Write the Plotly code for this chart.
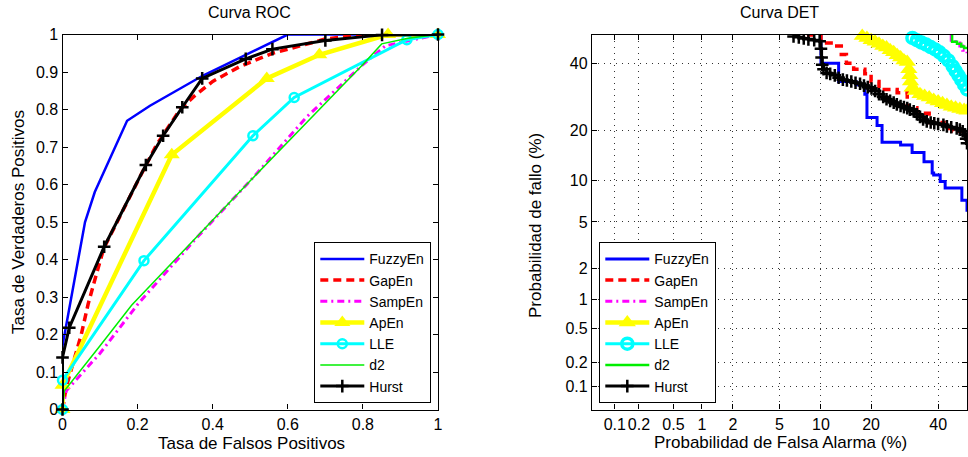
import plotly.graph_objects as go
from statistics import NormalDist

# ---------------- ROC data ----------------
names = ["FuzzyEn", "GapEn", "SampEn", "ApEn", "LLE", "d2", "Hurst"]

roc_fuzzy_fpr = [0, 0, 0.06, 0.086, 0.172, 0.233, 0.373, 0.6, 1]
roc_fuzzy_tpr = [0, 0.17, 0.5, 0.58, 0.77, 0.81, 0.89, 1, 1]
roc_gap_fpr = [0, 0.01, 0.05, 0.068, 0.09, 0.11, 0.206, 0.25, 0.313, 0.35, 0.4, 0.473, 0.56, 0.7, 0.81, 1]
roc_gap_tpr = [0, 0.06, 0.2, 0.28, 0.36, 0.43, 0.62, 0.705, 0.8, 0.835, 0.875, 0.915, 0.95, 0.988, 1, 1]
roc_samp_fpr = [0, 0.01, 0.1, 0.2, 0.35, 0.5, 0.65, 0.8, 0.86, 1]
roc_samp_tpr = [0, 0.05, 0.15, 0.28, 0.45, 0.61, 0.78, 0.92, 0.97, 1]
roc_ap_fpr = [0, 0, 0.291, 0.544, 0.684, 0.867, 1]
roc_ap_tpr = [0, 0.065, 0.679, 0.883, 0.946, 1, 1]
roc_lle_fpr = [0, 0, 0.217, 0.507, 0.617, 0.917, 1]
roc_lle_tpr = [0, 0.078, 0.397, 0.73, 0.832, 0.986, 1]
roc_d2_fpr = [0, 0.005, 0.1, 0.184, 0.5, 0.8, 0.85, 0.92, 1]
roc_d2_tpr = [0, 0.05, 0.17, 0.278, 0.61, 0.92, 0.975, 0.99, 1]
roc_hurst_fpr = [0, 0, 0.018, 0.111, 0.222, 0.268, 0.319, 0.372, 0.488, 0.559, 0.70, 0.851, 1]
roc_hurst_tpr = [0, 0.139, 0.218, 0.434, 0.652, 0.730, 0.806, 0.883, 0.935, 0.961, 0.984, 0.999, 1]

# ---------------- DET data (percent) ----------------
det_fuzzy_pfa = [10, 10, 13, 16.5, 18.5, 19, 21.5, 22.8, 28, 31.5, 35.3, 38, 38.5, 40.7, 42.4, 48.2, 50]
det_fuzzy_pmiss = [49.8, 40, 34, 33, 30, 23.3, 21.2, 17.2, 16.6, 15, 13.2, 11.2, 10.9, 9.85, 8.9, 7.3, 6]
det_gap_pfa = [8, 10, 12, 13.5, 14.5, 16, 18.5, 20, 22, 27, 30, 33, 37, 42, 45, 50]
det_gap_pmiss = [49.8, 47, 46, 43, 40, 38, 36.5, 34, 31.5, 30.5, 26, 24.5, 22, 20.5, 19.8, 19.5]
det_samp_pfa = [44, 44.5, 46, 47.5, 48.5, 50]
det_samp_pmiss = [49.8, 48, 47, 46, 44.5, 43.5]
det_ap_pfa = [17.9, 19, 20, 21, 22, 23, 24, 25, 26, 27, 28, 29, 30, 30.5, 30.8, 31, 31.5, 32.5, 34,
              35.5, 37, 38.5, 40, 41.5, 43, 44.5, 46, 47.5, 49, 50]
det_ap_pmiss = [49.5, 48.8, 48, 47.5, 46.8, 46, 45.5, 44.5, 43.8, 42.8, 42, 41, 40.5, 38, 36, 34, 32, 31, 30,
                29.5, 29, 28.3, 27.8, 27.3, 26.8, 26.3, 26, 25.7, 25.4, 25.2]
det_lle_pfa = [31.6, 33, 34.5, 36, 37.5, 39, 40.5, 42, 43.5, 45, 46, 47, 48, 49, 50]
det_lle_pmiss = [48.8, 48, 47.2, 46.5, 45.6, 44.8, 43.8, 42.5, 41, 39, 37.5, 36, 34.5, 33, 31.5]
det_d2_pfa = [44.5, 44.8, 46.5, 48, 49, 50]
det_d2_pmiss = [49.8, 47.5, 46.8, 45.8, 45.3, 45]
det_hurst_pfa = [6.4, 7.0, 7.6, 8.2, 9.0, 9.8, 10.0, 10.1, 10.2, 10.4, 10.9, 11.5, 12.3, 13.0, 13.8, 14.6,
                 15.5, 16.4, 17.4, 18.3, 19.2, 20.1, 21, 22, 23.1, 24, 25, 26, 26.9, 28, 29, 30, 30.8, 32,
                 33, 34, 35, 36.2, 37.5, 38.7, 40, 41.8, 43, 44.5, 46.4, 47.5, 48.5, 49.3, 49.7, 50]
det_hurst_pmiss = [49.3, 49.0, 48.6, 48.3, 48.0, 47.6, 45, 42, 39.5, 38, 36.8, 36.5, 36, 35.2, 34.6, 34.3,
                   34, 33.6, 33.3, 32.7, 32.2, 31.8, 31, 30, 29.2, 28.5, 28, 27.5, 27, 26.5, 26.2, 25.9, 25.5, 25,
                   24.2, 23.5, 22.8, 22.3, 22, 21.8, 21.6, 21.4, 21, 20.8, 20.5, 20.2, 19.8, 19, 18, 17]

det_ticks = [0.1, 0.2, 0.5, 1, 2, 5, 10, 20, 40]
det_ticklabels = ["0.1", "0.2", "0.5", "1", "2", "5", "10", "20", "40"]
roc_xticks = [0, 0.2, 0.4, 0.6, 0.8, 1]
roc_yticks = [0, 0.1, 0.2, 0.3, 0.4, 0.5, 0.6, 0.7, 0.8, 0.9, 1]

nd = NormalDist()


def probit(vals):
    return [nd.inv_cdf(min(v, 49.999) / 100.0) for v in vals]


W, H = 968, 457


def px(X):
    return X / W


def py(Y):
    return 1 - Y / H


FONT = "Liberation Sans, Arial, sans-serif"

styles = {
    "FuzzyEn": dict(line=dict(color="#0000FF", width=2.5), mode="lines"),
    "GapEn": dict(line=dict(color="#FF0000", width=3.5, dash="8px,5px"), mode="lines"),
    "SampEn": dict(line=dict(color="#FF00FF", width=3, dash="7px,4px,2px,4px"), mode="lines"),
    "ApEn": dict(line=dict(color="#FFFF00", width=4.5), mode="lines+markers",
                 marker=dict(symbol="triangle-up", size=14, color="#FFFF00")),
    "LLE": dict(line=dict(color="#00FFFF", width=3), mode="lines+markers",
                marker=dict(symbol="circle-open", size=9, color="#00FFFF", line=dict(width=2.5, color="#00FFFF"))),
    "d2": dict(line=dict(color="#00EE00", width=1.5), mode="lines"),
    "Hurst": dict(line=dict(color="#000000", width=3), mode="lines+markers",
                  marker=dict(symbol="cross-thin", size=9, color="#000000", line=dict(width=2.5, color="#000000"))),
}

roc_data = {
    "FuzzyEn": (roc_fuzzy_fpr, roc_fuzzy_tpr),
    "GapEn": (roc_gap_fpr, roc_gap_tpr),
    "SampEn": (roc_samp_fpr, roc_samp_tpr),
    "ApEn": (roc_ap_fpr, roc_ap_tpr),
    "LLE": (roc_lle_fpr, roc_lle_tpr),
    "d2": (roc_d2_fpr, roc_d2_tpr),
    "Hurst": (roc_hurst_fpr, roc_hurst_tpr),
}
det_data = {
    "FuzzyEn": (det_fuzzy_pfa, det_fuzzy_pmiss),
    "GapEn": (det_gap_pfa, det_gap_pmiss),
    "SampEn": (det_samp_pfa, det_samp_pmiss),
    "ApEn": (det_ap_pfa, det_ap_pmiss),
    "LLE": (det_lle_pfa, det_lle_pmiss),
    "d2": (det_d2_pfa, det_d2_pmiss),
    "Hurst": (det_hurst_pfa, det_hurst_pmiss),
}

fig = go.Figure()
for n in names:
    x, y = roc_data[n]
    st = styles[n]
    fig.add_trace(go.Scatter(x=x, y=y, name=n, xaxis="x", yaxis="y", legend="legend",
                             cliponaxis=False, **st))
for n in names:
    x, y = det_data[n]
    st = dict(styles[n])
    line = dict(st["line"])
    line["shape"] = "hv"
    if n == "d2":
        line["width"] = 2.5
    if n == "FuzzyEn":
        line["width"] = 3
    st["line"] = line
    if n == "LLE":
        st["marker"] = dict(symbol="circle-open", size=11, color="#00FFFF", line=dict(width=3.5, color="#00FFFF"))
    if n == "ApEn":
        st["marker"] = dict(symbol="triangle-up", size=15, color="#FFFF00")
    fig.add_trace(go.Scatter(x=probit(x), y=probit(y), name=n, xaxis="x2", yaxis="y2", legend="legend2",
                             cliponaxis=(n not in ("ApEn", "LLE")), **st))

ydom = [py(409.5), py(34.5)]
axis_common = dict(showline=True, linecolor="black", linewidth=1.3, mirror="ticks", ticks="inside",
                   ticklen=5, tickcolor="black", tickwidth=1, zeroline=False, tickangle=0,
                   tickfont=dict(family=FONT, size=16, color="black"), automargin=False)

lo, hi = nd.inv_cdf(0.0005), 0.0
legend_common = dict(yanchor="bottom", bgcolor="white", bordercolor="black", borderwidth=1.3,
                     itemwidth=44, tracegroupgap=0, font=dict(family=FONT, size=14, color="black"))
fig.update_layout(
    width=W, height=H,
    margin=dict(l=0, r=0, t=0, b=0),
    paper_bgcolor="white", plot_bgcolor="white",
    font=dict(family=FONT, color="black"),
    xaxis=dict(domain=[px(62.5), px(438)], range=[0, 1], tickvals=roc_xticks, showgrid=False,
               anchor="y", **axis_common),
    yaxis=dict(domain=ydom, range=[0, 1], tickvals=roc_yticks, showgrid=False, anchor="x", **axis_common),
    xaxis2=dict(domain=[px(592), px(967)], range=[lo, hi], tickvals=probit(det_ticks),
                ticktext=det_ticklabels, showgrid=True, gridcolor="#333333", griddash="1px,5px",
                gridwidth=1, anchor="y2", **axis_common),
    yaxis2=dict(domain=ydom, range=[lo, hi], tickvals=probit(det_ticks), ticktext=det_ticklabels,
                showgrid=True, gridcolor="#333333", griddash="1px,5px", gridwidth=1, anchor="x2",
                **axis_common),
    legend=dict(x=px(431), y=py(403), xanchor="right", **legend_common),
    legend2=dict(x=px(599), y=py(403), xanchor="left", **legend_common),
    showlegend=True,
)

ann_font = dict(family=FONT, size=16, color="black")
title_font = dict(family=FONT, size=17, color="black")


def label(text, X, Y, font, angle=0):
    fig.add_annotation(text=text, x=px(X), y=py(Y), xref="paper", yref="paper", showarrow=False,
                       xanchor="center", yanchor="middle", textangle=angle, font=font)


label("Curva ROC", 250, 12, ann_font)
label("Curva DET", 779.5, 12, ann_font)
label("Tasa de Falsos Positivos", 251, 443, title_font)
label("Probabilidad de Falsa Alarma (%)", 780, 442, title_font)
label("Tasa de Verdaderos Positivos", 18, 222, title_font, -90)
label("Probabilidad de fallo (%)", 535, 226, title_font, -90)

# the page's default 8px body margin would shift the fixed-size figure; remove it
fig.write_html("out.html", config={"displayModeBar": False},
               post_script="document.body.style.margin='0px';")
